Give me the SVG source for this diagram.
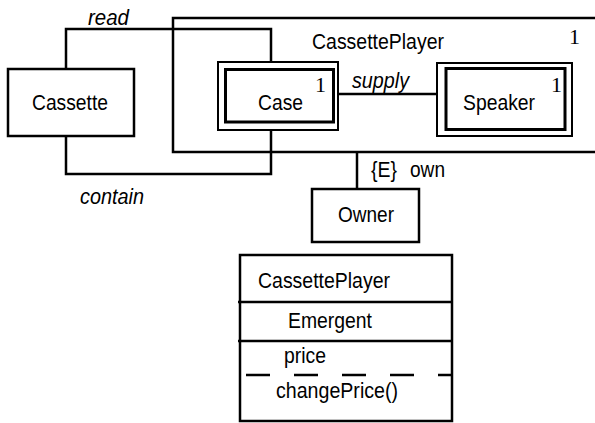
<svg xmlns="http://www.w3.org/2000/svg" width="595" height="423" viewBox="0 0 595 423">
  <style>
    .box { fill: #fff; stroke: #000; stroke-width: 2.5; }
    .outer { fill: #fff; stroke: #000; stroke-width: 2; }
    .inner { fill: none; stroke: #000; stroke-width: 3; }
    .wire { fill: none; stroke: #000; stroke-width: 2.5; }
    .lbl { font-family: "Liberation Sans", Arial, sans-serif; font-size: 22px; fill: #000; }
    .it { font-style: italic; }
    .num { font-family: "Liberation Serif", "Times New Roman", serif; font-size: 22px; fill: #000; }
  </style>

  <!-- enclosing CassettePlayer composite (open on the right) -->
  <g id="cassetteplayer-composite">
    <path class="wire" d="M600,18 H173 V152 H600"/>
    <text class="lbl" x="312" y="49" textLength="132" lengthAdjust="spacingAndGlyphs">CassettePlayer</text>
    <text class="num" x="569" y="44">1</text>
  </g>

  <g id="connectors">
    <!-- read -->
    <path class="wire" d="M66,69 V29 H271 V62"/>
    <text class="lbl it" x="88" y="25" textLength="41" lengthAdjust="spacingAndGlyphs">read</text>
    <!-- contain -->
    <path class="wire" d="M66,136 V174 H271 V130"/>
    <text class="lbl it" x="80" y="204" textLength="64" lengthAdjust="spacingAndGlyphs">contain</text>
    <!-- supply -->
    <path class="wire" d="M332,94 H437"/>
    <text class="lbl it" x="352" y="88" textLength="57" lengthAdjust="spacingAndGlyphs">supply</text>
    <!-- own -->
    <path class="wire" d="M357,152 V189"/>
    <text class="lbl" x="371" y="177" textLength="26" lengthAdjust="spacingAndGlyphs">{E}</text>
    <text class="lbl" x="410" y="177" textLength="35" lengthAdjust="spacingAndGlyphs">own</text>
  </g>

  <g id="cassette">
    <rect class="box" x="8" y="69" width="126" height="67"/>
    <text class="lbl" x="32" y="110" textLength="76" lengthAdjust="spacingAndGlyphs">Cassette</text>
  </g>

  <g id="case">
    <rect class="outer" x="218" y="62" width="120" height="68"/>
    <rect class="inner" x="225.5" y="69.5" width="108" height="52.5"/>
    <text class="lbl" x="258" y="110" textLength="45" lengthAdjust="spacingAndGlyphs">Case</text>
    <text class="num" x="315" y="92">1</text>
  </g>

  <g id="speaker">
    <rect class="outer" x="437" y="63" width="135" height="73"/>
    <rect class="inner" x="446" y="68.5" width="119" height="61"/>
    <text class="lbl" x="463" y="110" textLength="72" lengthAdjust="spacingAndGlyphs">Speaker</text>
    <text class="num" x="551" y="92">1</text>
  </g>

  <g id="owner">
    <rect class="box" x="312" y="189" width="107" height="53"/>
    <text class="lbl" x="338" y="222" textLength="56" lengthAdjust="spacingAndGlyphs">Owner</text>
  </g>

  <g id="cassetteplayer-class">
    <rect class="box" x="240" y="255" width="212" height="166"/>
    <path class="wire" d="M238,302 H452 M238,341 H452"/>
    <path class="wire" d="M246,375 H452" stroke-dasharray="24 24"/>
    <text class="lbl" x="258" y="288" textLength="132" lengthAdjust="spacingAndGlyphs">CassettePlayer</text>
    <text class="lbl" x="288" y="328" textLength="84" lengthAdjust="spacingAndGlyphs">Emergent</text>
    <text class="lbl" x="284" y="363" textLength="42" lengthAdjust="spacingAndGlyphs">price</text>
    <text class="lbl" x="276" y="398" textLength="122" lengthAdjust="spacingAndGlyphs">changePrice()</text>
  </g>
</svg>
